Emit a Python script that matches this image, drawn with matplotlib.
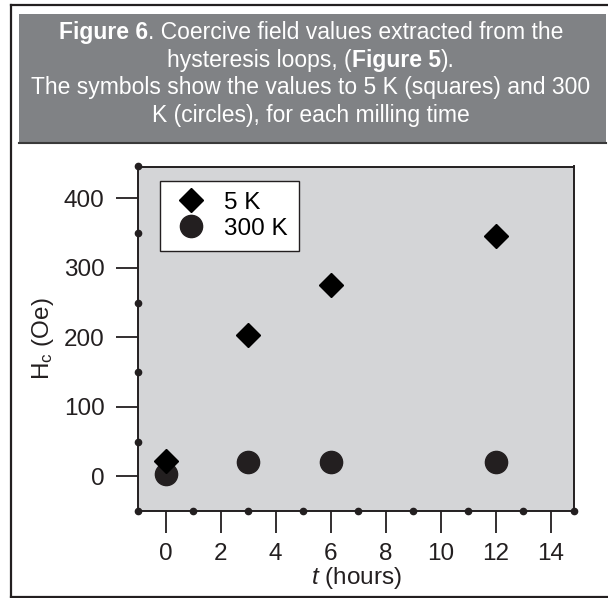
import numpy as np
import matplotlib
matplotlib.use("Agg")
import matplotlib.pyplot as plt
from matplotlib.patches import Rectangle
from matplotlib.lines import Line2D
from matplotlib.offsetbox import TextArea, HPacker, VPacker, AnnotationBbox

# data
t_5k = [0, 3, 6, 12]
hc_5k = [22, 203, 276, 346]
t_300k = [0, 3, 6, 12]
hc_300k = [3, 21, 20, 20]

labels = ["5 K", "300 K"]
x_ticks = [0, 2, 4, 6, 8, 10, 12, 14]
y_ticks = [0, 100, 200, 300, 400]

W, H = 608, 598
plt.rcParams['font.family'] = ['Liberation Sans', 'DejaVu Sans']
plt.rcParams['mathtext.fontset'] = 'custom'
plt.rcParams['mathtext.rm'] = 'Liberation Sans'
plt.rcParams['mathtext.it'] = 'Liberation Sans:italic'

fig = plt.figure(figsize=(W / 100, H / 100), dpi=100)

def px(x, y):
    # pixel coords (from top-left) -> figure fraction
    return x / W, 1 - y / H

# outer frame (left, top, bottom edges visible)
fr = dict(transform=fig.transFigure, color='#231f20', lw=1.6, zorder=0)
fig.lines.append(Line2D([11 / W, 11 / W], [1 - 4.5 / H, 1 - 597 / H], **fr))
fig.lines.append(Line2D([11 / W, 1], [1 - 4.5 / H, 1 - 4.5 / H], **fr))
fig.lines.append(Line2D([11 / W, 1], [1 - 597 / H, 1 - 597 / H], **fr))

# title box
bx, by = px(19, 143)
fig.patches.append(Rectangle((bx, by), (606 - 19) / W, (143 - 14) / H, transform=fig.transFigure,
                             facecolor='#808285', edgecolor='none', zorder=1))
fig.lines.append(Line2D([bx, 606 / W], [by, by], transform=fig.transFigure,
                        color='#3a3a3a', lw=1.5, zorder=2))

tsize = 16.5
norm = dict(color='white', fontsize=tsize)
bold = dict(color='white', fontsize=tsize, fontweight='bold')

def line(*parts):
    return HPacker(children=[TextArea(s, textprops=p) for s, p in parts], pad=0, sep=0, align='baseline')

title = VPacker(children=[
    line(("Figure 6", bold), (". Coercive field values extracted from the", norm)),
    line(("hysteresis loops, (", norm), ("Figure 5", bold), (").", norm)),
    line(("The symbols show the values to 5 K (squares) and 300", norm)),
    line(("K (circles), for each milling time", norm)),
], pad=0, sep=3.5, align='center')
ab = AnnotationBbox(title, px(311, 74), xycoords='figure fraction', frameon=False,
                    box_alignment=(0.5, 0.5), zorder=3)
fig.add_artist(ab)

# plot area
l, b = px(138, 511)
r, t = px(574, 166.5)
ax = fig.add_axes([l, b, r - l, t - b])
ax.set_facecolor('#d4d5d7')

ax.plot(t_5k, hc_5k, linestyle='none', marker='D', ms=12.5, color='black', label=labels[0], zorder=4)
ax.plot(t_300k, hc_300k, linestyle='none', marker='o', ms=16, color='#231f20', label=labels[1], zorder=3)

xlim = (-1, 14.85)
ylim = (-50, 446)
ax.set_xlim(*xlim)
ax.set_ylim(*ylim)
ax.set_xticks(x_ticks)
ax.set_yticks(y_ticks)

for s in ax.spines.values():
    s.set_linewidth(1.4)
    s.set_color('#231f20')
ax.tick_params(axis='both', which='major', direction='out', length=16, width=1.3,
               labelsize=17.5, color='#231f20', labelcolor='#231f20')
ax.tick_params(axis='y', pad=8)
ax.tick_params(axis='x', pad=7)

# dot-style minor ticks on the spines
xm = [1, 3, 5, 7, 9, 11, 13]
ym = [50, 150, 250, 350]
dot = dict(linestyle='none', marker='o', ms=4.5, color='#231f20', clip_on=False, zorder=5)
ax.plot(xm, [ylim[0]] * len(xm), **dot)
ax.plot([xlim[0]] * len(ym), ym, **dot)
ax.plot([xlim[0], xlim[0], xlim[1]], [ylim[0], ylim[1], ylim[0]], **dot)

ax.set_ylabel(r'H$_\mathregular{c}$ (Oe)', fontsize=17.5, color='#231f20', labelpad=6)
ax.set_xlabel(r'$t$ (hours)', fontsize=17.5, color='#231f20', labelpad=0)

leg = ax.legend(loc='upper left', bbox_to_anchor=(0.05, 0.958), fontsize=17.5,
                frameon=True, fancybox=False, edgecolor='#231f20', framealpha=1,
                handletextpad=0.5, borderpad=0.45, labelspacing=0.15, handlelength=1.7,
                borderaxespad=0)
leg.get_frame().set_linewidth(1.0)

fig.savefig('out.png', dpi=100)
